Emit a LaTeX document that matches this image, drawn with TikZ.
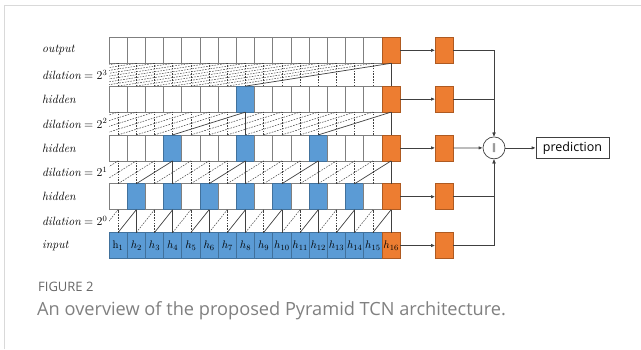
\documentclass[tikz,border=0pt]{standalone}
\usepackage{fontspec}
\newfontfamily\capfont{Open Sans}
\newfontfamily\symfont{DejaVu Sans}
\usetikzlibrary{arrows.meta}
\definecolor{cellgray}{HTML}{7F7F7F}
\definecolor{bluef}{HTML}{5B9BD5}
\definecolor{blued}{HTML}{41719C}
\definecolor{orangef}{HTML}{ED7D31}
\definecolor{oranged}{HTML}{AE5A21}
\definecolor{linec}{HTML}{404040}
\definecolor{capgray}{HTML}{808080}
\begin{document}
\begin{tikzpicture}[x=1pt,y=-1pt,
  cellbox/.style={draw=cellgray, line width=0.8pt, fill=white, minimum width=18.2pt, minimum height=26pt, inner sep=0pt, outer sep=0pt},
  lbl/.style={anchor=west, inner sep=0pt, font=\fontsize{12}{14}\selectfont},
  htxt/.style={inner sep=0pt, font=\fontsize{11}{13}\selectfont},
  conn/.style={draw=linec, line width=0.7pt},
  dashconn/.style={draw=linec, line width=0.5pt, dash pattern=on 1.6pt off 1.2pt},
  solidconn/.style={draw=linec, line width=0.7pt},
  arr/.style={conn, -{Latex[length=4pt,width=3.4pt]}},
]
\useasboundingbox (0,0) rectangle (641,349);
\draw[black!15, line width=0.8pt] (4,349) -- (4,5) -- (641,5);

% cells
\foreach \r in {0,...,4}{
  \foreach \i in {1,...,16}{
    \pgfmathtruncatemacro{\p}{2^(4-\r)}
    \pgfmathtruncatemacro{\m}{mod(\i,\p)}
    \ifnum\i=16 \def\fc{orangef}\def\dc{oranged}\else
      \ifnum\m=0 \def\fc{bluef}\def\dc{blued}\else\def\fc{white}\def\dc{cellgray}\fi\fi
    \node[cellbox, fill=\fc, draw=\dc] (c\r-\i) at ({109+(\i-0.5)*18.2}, {50.3+48.8*\r}) {};
  }
}
% input labels
\node[htxt] at (c4-1) {$\mathrm{h}_{1}$};
\foreach \i in {2,...,16}{\node[htxt] at (c4-\i) {$h_{\i}$};}

% dilation bands
\foreach \k in {0,...,3}{
  \pgfmathtruncatemacro{\lo}{\k+1}
  \pgfmathtruncatemacro{\d}{2^(3-\k)}
  \begin{scope}
    \clip (109, {50.3+48.8*\k}) rectangle (400.2, {50.3+48.8*\lo});
    \foreach \i in {1,...,16}{
      \pgfmathtruncatemacro{\m}{mod(\i,2*\d)}
      \ifnum\m=0 \else
        \draw[dashconn] (c\lo-\i.north) -- (c\k-\i.south);
        \draw[dashconn] ([xshift=-\d*18.2pt]c\lo-\i.north) -- (c\k-\i.south);
      \fi
    }
    \foreach \i in {1,...,16}{
      \pgfmathtruncatemacro{\m}{mod(\i,2*\d)}
      \ifnum\m=0
        \draw[solidconn] (c\lo-\i.north) -- (c\k-\i.south);
        \draw[solidconn] ([xshift=-\d*18.2pt]c\lo-\i.north) -- (c\k-\i.south);
      \fi
    }
  \end{scope}
}

% left labels
\node[lbl] (l0) at (42,50.3) {\textit{output}};
\node[lbl] (d3) at (42,74.7) {$\mathit{dilation}=2^{3}$};
\node[lbl] (l1) at (42,99.1) {\textit{hidden}};
\node[lbl] (d2) at (42,123.5) {$\mathit{dilation}=2^{2}$};
\node[lbl] (l2) at (42,147.9) {\textit{hidden}};
\node[lbl] (d1) at (42,172.3) {$\mathit{dilation}=2^{1}$};
\node[lbl] (l3) at (42,196.7) {\textit{hidden}};
\node[lbl] (d0) at (42,221.1) {$\mathit{dilation}=2^{0}$};
\node[lbl] (l4) at (42,245.5) {\textit{input}};

% right side
\foreach \r in {0,...,4}{
  \node[cellbox, fill=orangef, draw=oranged] (o\r) at (444.2, {50.3+48.8*\r}) {};
  \draw[arr] (c\r-16.east) -- (o\r.west);
}
\node[circle, draw=linec, line width=0.7pt, minimum size=22pt, inner sep=0pt, text=linec!80, font=\symfont\fontsize{9}{10}\selectfont] (cat) at (494,147.9) {‖};
\node[draw=linec, line width=0.7pt, minimum width=73pt, minimum height=21pt, inner sep=0pt, font=\capfont\fontsize{12.5}{14}\selectfont] (pred) at (572.5,147.9) {prediction};
\draw[arr] (o0.east) -| (cat.north);
\draw[arr] (o1.east) -| (cat.north);
\draw[arr] (o2.east) -- (cat.west);
\draw[arr] (o3.east) -| (cat.south);
\draw[arr] (o4.east) -| (cat.south);
\draw[arr] (cat.east) -- (pred.west);

% caption
\node[anchor=base west, inner sep=0pt, text=capgray!80!black, font=\capfont\fontsize{13}{15}\selectfont] (fig) at (38,291) {FIGURE 2};
\node[anchor=base west, inner sep=0pt, text=capgray, font=\capfont\fontsize{18.2}{21}\selectfont] (cap) at (37,315) {An overview of the proposed Pyramid TCN architecture.};
\end{tikzpicture}
\end{document}
